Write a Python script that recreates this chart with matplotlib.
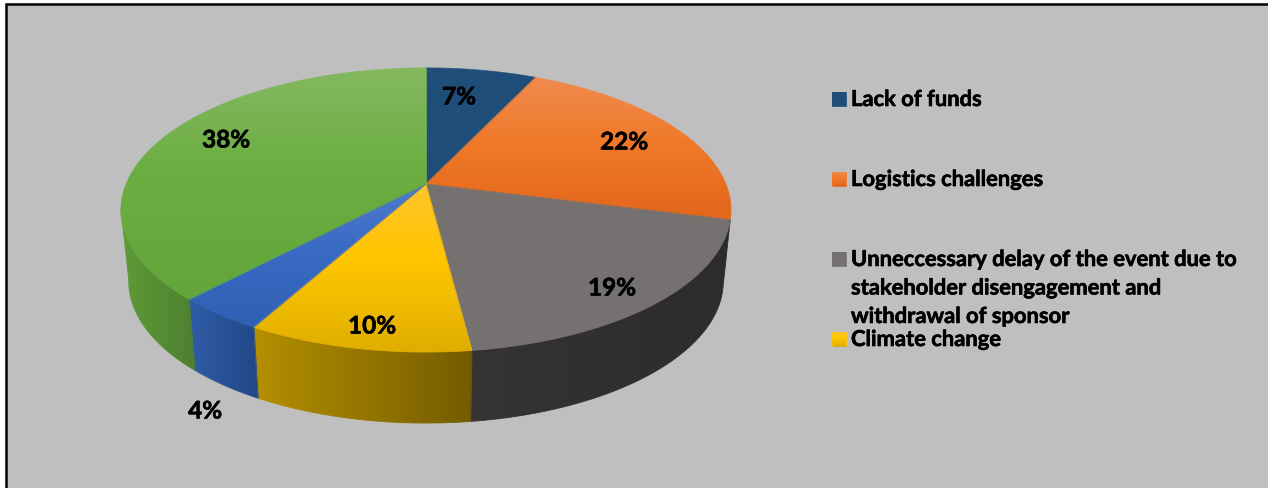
import numpy as np
import matplotlib
matplotlib.use('Agg')
import matplotlib.pyplot as plt
import matplotlib.patheffects as pe
from matplotlib.collections import LineCollection
from matplotlib.colors import to_rgb
from matplotlib.patches import Polygon, Rectangle

plt.rcParams['font.family'] = ['Lato', 'DejaVu Sans']

# Shares of each cause, clockwise from twelve o'clock
causes = ['Lack of funds', 'Logistics challenges',
          'Unneccessary delay of the event due to\nstakeholder disengagement and\nwithdrawal of sponsor',
          'Climate change', '', '']
shares = [7, 22, 19, 10, 4, 38]
share_labels = ['7%', '22%', '19%', '10%', '4%', '38%']

# top colour ramp: light, base, dark
top_light = ['#1F4E79', '#F08B50', '#767171', '#FFC42C', '#4F7CCE', '#84B861']
top_base = ['#1F4E79', '#F07A2A', '#767171', '#FFC600', '#3A6BC4', '#6CAE41']
top_dark = ['#1F4E79', '#E3661A', '#767171', '#E0AE00', '#2F60B4', '#64A53B']
# side colour ramp, left to right
side_left = ['#173A5A', '#A04F18', '#363333', '#B48F00', '#2F5CA6', '#5F9A38']
side_right = ['#173A5A', '#A04F18', '#2E2B2B', '#745C00', '#224788', '#4E8030']

label_xy = [(459, 97), (624, 142), (612, 288), (372, 326), (205, 411), (226, 140)]
legend_y = [99, 179, 259, 339]

# Tilted disc: circle seen in perspective, apex is the projected centre
APEX_X, APEX_Y = 426, 184
SCALE_X, SCALE_Y, PERSP = 299.8, 137.3, -0.183
DEPTH = 71
BOTTOM_SCALE = 0.975
FRONT_START, FRONT_END = 104.4, 260.0

bold_edge = [pe.withStroke(linewidth=0.45, foreground='black')]


def rim(theta_deg):
    t = np.radians(theta_deg)
    u, v = np.sin(t), -np.cos(t)
    d = 1 + PERSP * v
    return APEX_X + SCALE_X * u / d, APEX_Y + SCALE_Y * v / d


def rim_bottom(theta_deg):
    x, y = rim(theta_deg)
    return APEX_X + BOTTOM_SCALE * (x - APEX_X), y + DEPTH


def ramp3(pos, c0, c1, c2, mid=0.45):
    c0, c1, c2 = np.array(to_rgb(c0)), np.array(to_rgb(c1)), np.array(to_rgb(c2))
    pos = np.asarray(pos)[..., None]
    low = c0 + (c1 - c0) * np.clip(pos / mid, 0, 1)
    high = c1 + (c2 - c1) * np.clip((pos - mid) / (1 - mid), 0, 1)
    return np.where(pos < mid, low, high)


def gradient_poly(ax, xs, ys, colour_at, vertical, z):
    """Fill a polygon with a linear gradient and stroke it to smooth the clip edge."""
    x0, x1, y0, y1 = xs.min(), xs.max(), ys.min(), ys.max()
    pos = np.linspace(0, 1, 256)
    cols = colour_at(pos)
    img = cols[:, None, :] if vertical else cols[None, :, :]
    im = ax.imshow(img, extent=(x0, x1, y1, y0), aspect='auto', zorder=z,
                   interpolation='bilinear')
    poly = Polygon(np.column_stack([xs, ys]), closed=True, transform=ax.transData,
                   fc='none', ec='none')
    ax.add_patch(poly)
    im.set_clip_path(poly)
    # outline coloured from the same ramp
    px = np.append(xs, xs[0])
    py = np.append(ys, ys[0])
    segs = np.stack([np.column_stack([px[:-1], py[:-1]]),
                     np.column_stack([px[1:], py[1:]])], axis=1)
    mids = (py[:-1] + py[1:]) / 2 if vertical else (px[:-1] + px[1:]) / 2
    if vertical:
        t = (mids - y0) / max(y1 - y0, 1)
    else:
        t = (mids - x0) / max(x1 - x0, 1)
    ax.add_collection(LineCollection(segs, colors=colour_at(t), linewidths=0.6, zorder=z + 0.1))


fig = plt.figure(figsize=(12.68, 4.88), dpi=100, facecolor='white')
ax = fig.add_axes([0, 0, 1, 1])
ax.axis('off')

# panel with its black frame
ax.add_patch(Rectangle((6, 3.5), 1300, 600, fc='#BFBFBF', ec='black', lw=1.8, zorder=0))

edges = np.cumsum([0] + shares) / np.sum(shares) * 360

# side wall of the front half
for i in range(len(shares)):
    a, b = max(edges[i], FRONT_START), min(edges[i + 1], FRONT_END)
    if b <= a:
        continue
    th = np.linspace(a, b, 120)
    tx, ty = rim(th)
    bx, by = rim_bottom(th)
    xs = np.concatenate([tx, bx[::-1]])
    ys = np.concatenate([ty, by[::-1]])
    fn = lambda p, i=i: ramp3(p, side_left[i], side_left[i], side_right[i], mid=0.01)
    gradient_poly(ax, xs, ys, fn, False, 2)

# top face slices
for i in range(len(shares)):
    th = np.linspace(edges[i], edges[i + 1], 200)
    rx, ry = rim(th)
    xs = np.concatenate([[APEX_X], rx])
    ys = np.concatenate([[APEX_Y], ry])
    fn = lambda p, i=i: ramp3(p, top_light[i], top_base[i], top_dark[i])
    gradient_poly(ax, xs, ys, fn, True, 3)

for txt, (x, y) in zip(share_labels, label_xy):
    ax.text(x, y, txt, fontsize=17.5, fontweight='bold', color='black',
            ha='center', va='center', zorder=5, path_effects=bold_edge)

# legend, only the first four causes are listed
for i, y in enumerate(legend_y):
    xs = np.array([832, 846, 846, 832.0])
    ys = np.array([y - 7, y - 7, y + 7, y + 7.0])
    fn = lambda p, i=i: ramp3(p, top_light[i], top_base[i], top_dark[i])
    gradient_poly(ax, xs, ys, fn, True, 3)
    ax.text(851, y - 10, causes[i], fontsize=15.8, fontweight='bold',
            color='black', ha='left', va='top', linespacing=1.44, zorder=5,
            path_effects=bold_edge)

ax.set_xlim(0, 1268)
ax.set_ylim(488, 0)
fig.savefig('out.png', dpi=100, facecolor='white')
